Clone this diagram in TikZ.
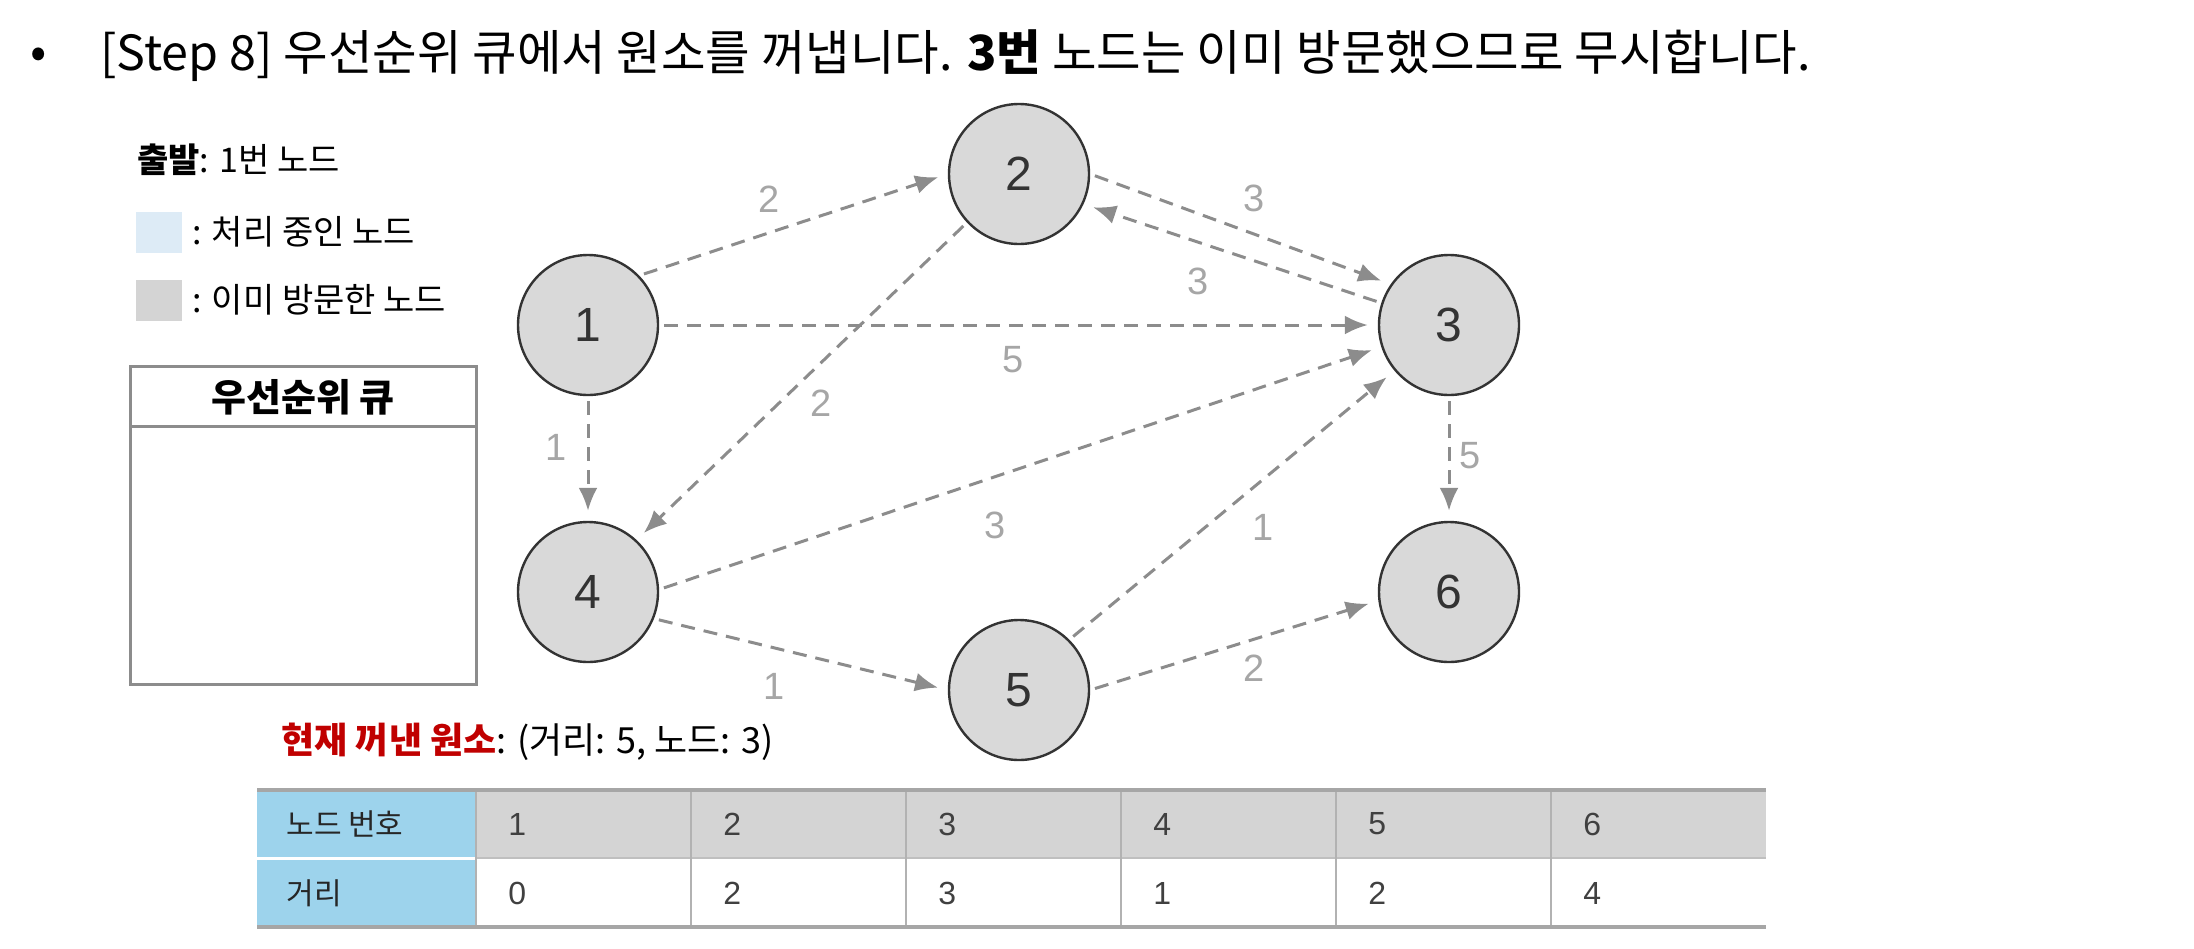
\documentclass[tikz,border=0pt]{standalone}
\usepackage{fontspec}
\setmainfont{Noto Sans CJK KR}
\newfontfamily\numfont{Liberation Sans}
\usetikzlibrary{arrows.meta}
\definecolor{nodegray}{HTML}{D9D9D9}
\definecolor{edgegray}{HTML}{8C8C8C}
\definecolor{wgray}{HTML}{A6A6A6}
\definecolor{tabblue}{HTML}{9DD3EC}
\definecolor{tabgray}{HTML}{D4D4D4}
\definecolor{legblue}{HTML}{DDEBF6}
\definecolor{boxgray}{HTML}{8C8C8C}
\definecolor{popred}{HTML}{C00000}

\begin{document}
\begin{tikzpicture}[x=0.5pt,y=-0.5pt,
  txt/.style={inner sep=0pt,anchor=west},
  vtx/.style={circle,draw=black!80,line width=1.2pt,fill=nodegray,minimum size=70pt,inner sep=0pt,font=\numfont\fontsize{24}{24}\selectfont,text=black!80},
  edge/.style={draw=edgegray,line width=1.5pt,dash pattern=on 7pt off 4.5pt,-{Latex[length=11.5pt,width=9.5pt]},shorten <=2.5pt,shorten >=5pt},
  wlabel/.style={inner sep=0pt,font=\numfont\fontsize{19}{19}\selectfont,text=wgray},
  cell/.style={txt,font=\fontsize{15}{15}\selectfont,text=black!85}]
\useasboundingbox (0,0) rectangle (2194,948);
\node[inner sep=0pt,font=\fontsize{24}{28}\selectfont] (bullet) at (39,58) {•};
\node[txt,font=\fontsize{24.2}{28}\selectfont] (title) at (100,56) {[Step 8] 우선순위 큐에서 원소를 꺼냅니다. \textbf{3번} 노드는 이미 방문했으므로 무시합니다.};
\node[txt,font=\fontsize{17}{20}\selectfont] (start) at (137,160) {\textbf{출발}: 1번 노드};
\fill[legblue] (136,212) rectangle (182,253); \node[txt,font=\fontsize{17}{20}\selectfont] (curleg) at (192,232) {: 처리 중인 노드};
\fill[tabgray] (136,280) rectangle (182,321); \node[txt,font=\fontsize{17}{20}\selectfont] (visleg) at (192,300) {: 이미 방문한 노드};
\draw[boxgray,line width=1.5pt] (130,366) rectangle (476,684); \draw[boxgray,line width=1.5pt] (130,426) -- (476,426);
\node[inner sep=0pt,font=\fontsize{19}{22}\selectfont\bfseries] (pq) at (303,397) {우선순위 큐};
\node[vtx] (n1) at (588,325) {1}; \node[vtx] (n2) at (1019,174) {2}; \node[vtx] (n3) at (1449,325) {3};
\node[vtx] (n4) at (588,592) {4}; \node[vtx] (n5) at (1019,690) {5}; \node[vtx] (n6) at (1449,592) {6};
\draw[edge] (n1.44) -- (n2.180); \node[wlabel] (w12) at (769,199) {2};
\draw[edge] (n2.0) -- (n3.145); \node[wlabel] (w23) at (1254,198) {3};
\draw[edge] (n3.162) -- (n2.-25); \node[wlabel] (w32) at (1198,281) {3};
\draw[edge] (n1.east) -- (n3.west); \node[wlabel] (w13) at (1013,360) {5};
\draw[edge] (n2.-137) -- (n4.47); \node[wlabel] (w24) at (821,403) {2};
\draw[edge] (n1.south) -- (n4.north); \node[wlabel] (w14) at (556,447) {1};
\draw[edge] (n4.2) -- (n3.198); \node[wlabel] (w43) at (995,525) {3};
\draw[edge] (n5.45) -- (n3.220); \node[wlabel] (w53) at (1263,527) {1};
\draw[edge] (n3.south) -- (n6.north); \node[wlabel] (w36) at (1470,456) {5};
\draw[edge] (n4.-22) -- (n5.180); \node[wlabel] (w45) at (774,686) {1};
\draw[edge] (n5.0) -- (n6.187); \node[wlabel] (w56) at (1254,668) {2};
\node[txt,font=\fontsize{18}{21}\selectfont] (popped) at (281,742) {\textcolor{popred}{\textbf{현재 꺼낸 원소}}: (거리: 5, 노드: 3)};
\fill[tabblue] (257,790) rectangle (476,927); \fill[tabgray] (476,790) rectangle (1766,858);
\draw[white,line width=1.5pt] (257,858) -- (476,858); \draw[black!25,line width=0.6pt] (476,858) -- (1766,858);
\foreach \x in {476,691,...,1551} {\draw[black!30,line width=0.6pt] (\x,790) -- (\x,927);}
\draw[black!35,line width=2pt] (257,790) -- (1766,790); \draw[black!35,line width=2pt] (257,927) -- (1766,927);
\node[cell] (hid) at (286,824) {노드 번호}; \node[cell] (hdist) at (286,893) {거리};
\foreach \i/\d in {1/0,2/2,3/3,4/1,5/2,6/4} {
  \node[cell,font=\numfont\fontsize{16}{16}\selectfont,text=black!75] (id\i) at (476+215*\i-215+32,824) {\i};
  \node[cell,font=\numfont\fontsize{16}{16}\selectfont,text=black!75] (dist\i) at (476+215*\i-215+32,893) {\d};}
\end{tikzpicture}
\end{document}
